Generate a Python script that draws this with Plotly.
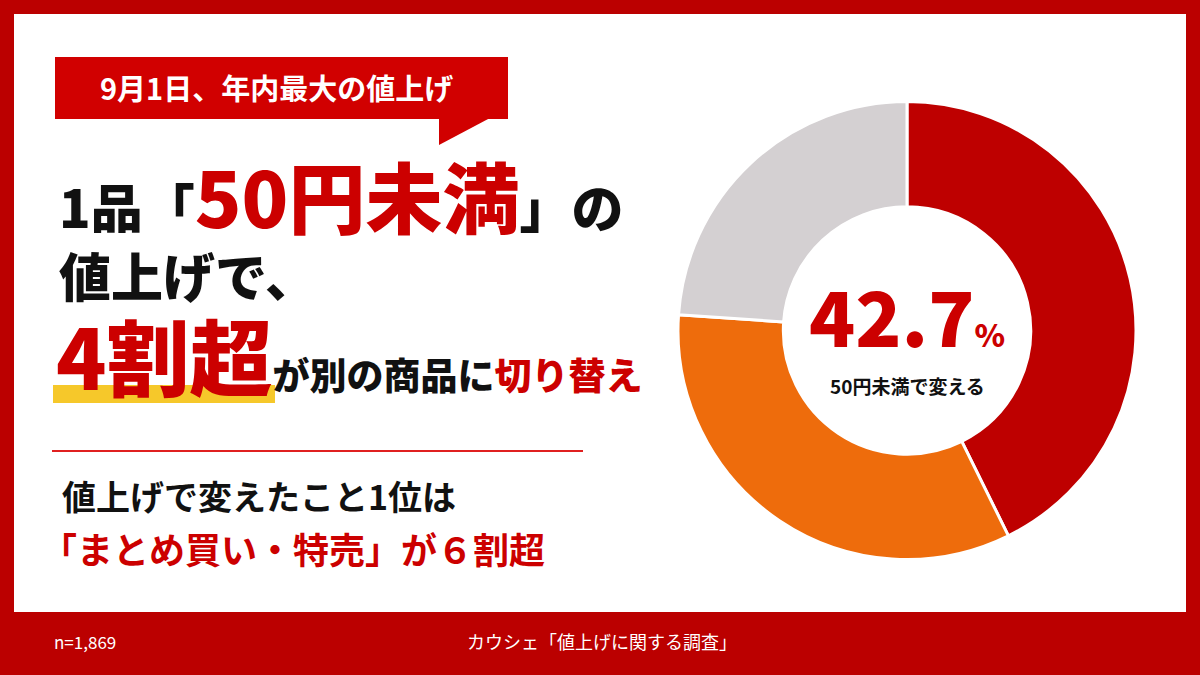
import plotly.graph_objects as go

# donut data (share of respondents)
labels = ["50円未満で変える", "50円以上で変える", "変えない"]
values = [42.7, 33.4, 23.9]
colors = ["#BE0000", "#EE6C0C", "#D4D0D2"]

center_value = "42.7"
center_label = "50円未満で変える"
sample_note = "n=1,869"
source_note = "カウシェ「値上げに関する調査」"

RED = "#CC0000"
FRAME = "#BB0000"
BLACK = "#111111"
JP = "Noto Sans CJK JP"

fig = go.Figure()

fig.add_trace(go.Pie(
    labels=labels,
    values=values,
    hole=0.54,
    sort=False,
    direction="clockwise",
    rotation=0,
    marker=dict(colors=colors, line=dict(color="white", width=3)),
    textinfo="none",
    hoverinfo="label+percent",
    showlegend=False,
    domain=dict(x=[678 / 1200, 1136 / 1200], y=[1 - 565 / 675, 1 - 96 / 675]),
))

shapes = [
    # white panel
    dict(type="rect", x0=14, x1=1186, y0=14, y1=612, fillcolor="white", line_width=0, layer="below"),
    # callout box + tail
    dict(type="rect", x0=55, x1=508, y0=57, y1=119, fillcolor="#D10000", line_width=0, layer="below"),
    dict(type="path", path="M 439 118 L 490 118 L 439 145 Z", fillcolor="#D10000", line_width=0, layer="below"),
    # yellow highlight under 4割超
    dict(type="rect", x0=53, x1=275, y0=385, y1=403, fillcolor="#F6C82A", line_width=0, layer="below"),
    # divider
    dict(type="line", x0=52, x1=583, y0=451, y1=451, line=dict(color="#E02020", width=2), layer="below"),
]

def txt(x, y, text, size, color=BLACK, xanchor="left", weight=700, height=None):
    a = dict(x=x, y=y, xref="x", yref="y", text=text, showarrow=False,
             xanchor=xanchor, yanchor="middle",
             font=dict(family=JP, size=size, color=color, weight=weight))
    if height:
        a["height"] = height
    return a

def red(s, size=None):
    if size:
        return f"<span style='color:{RED};font-size:{size}px'>{s}</span>"
    return f"<span style='color:{RED}'>{s}</span>"

annotations = [
    txt(276, 87, "9月1日、年内最大の値上げ", 29, "white", "center"),
    txt(57, 194, "1品「" + red("50円未満", 77) + "」の", 52, weight=900),
    txt(57, 274, "値上げで、", 52, weight=900, height=60),
    txt(54, 354, red("4割超", 83) + "が別の商品に" + red("切り替え"), 37, weight=900, height=100),
    txt(60, 495, "値上げで変えたこと1位は", 34),
    txt(39, 548, red("「まとめ買い・特売」が６割超"), 36),
    txt(907, 314, red(center_value) + red("%", 31), 76, RED, "center", 900),
    txt(907, 385, center_label, 19, BLACK, "center"),
    dict(x=52, y=641, xref="x", yref="y", text=sample_note, showarrow=False,
         xanchor="left", yanchor="middle", font=dict(family=JP, size=17, color="white")),
    dict(x=602, y=641, xref="x", yref="y", text=source_note, showarrow=False,
         xanchor="center", yanchor="middle", font=dict(family=JP, size=18, color="white")),
]

fig.update_layout(
    width=1200, height=675,
    margin=dict(l=0, r=0, t=0, b=0),
    paper_bgcolor=FRAME,
    plot_bgcolor="rgba(0,0,0,0)",
    xaxis=dict(range=[0, 1200], visible=False, fixedrange=True),
    yaxis=dict(range=[675, 0], visible=False, fixedrange=True),
    shapes=shapes,
    annotations=annotations,
)

fig.write_html("out.html", config={"displayModeBar": False},
               post_script="document.body.style.margin='0';")
